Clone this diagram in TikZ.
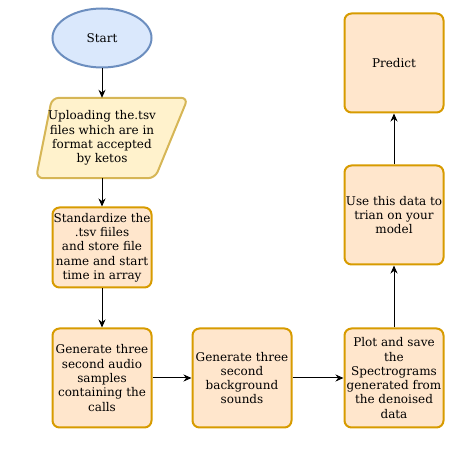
\documentclass[tikz,border=0pt]{standalone}
\usepackage{fontspec}
\setmainfont{DejaVu Serif}
\usepackage{xcolor}
\usepackage{tikz}
\usetikzlibrary{shapes.geometric,arrows.meta,backgrounds}
\definecolor{boxfill}{HTML}{FFE6CC}
\definecolor{boxline}{HTML}{D79B00}
\definecolor{startfill}{HTML}{DAE8FC}
\definecolor{startline}{HTML}{6C8EBF}
\definecolor{iofill}{HTML}{FFF2CC}
\definecolor{ioline}{HTML}{D6B656}

\begin{document}
\begin{tikzpicture}[x=1pt, y=-1pt,
  every node/.style={font=\fontsize{12}{14.3}\selectfont, align=center, text=black},
  stepbox/.style={draw=boxline, fill=boxfill, line width=2pt, rounded corners=7pt, minimum width=99pt, minimum height=99pt, inner sep=1pt},
  flow/.style={-{Stealth[length=8pt,width=7pt]}, line width=1pt}]
\useasboundingbox (0,0) rectangle (459,449);
\node[ellipse, draw=startline, fill=startfill, line width=2pt, minimum width=99pt, minimum height=59pt] (start) at (102,38) {Start};
\node[minimum height=80pt, inner sep=1pt] (upload) at (102,138) {Uploading the.tsv\\files which are in\\format accepted\\by ketos};
\node[stepbox, minimum height=80pt] (std) at (102,247.5) {Standardize the\\.tsv fiiles\\and store file\\name and start\\time in array};
\node[stepbox] (audio) at (102,378) {Generate three\\second audio\\samples\\containing the\\calls};
\node[stepbox] (bg) at (242,378) {Generate three\\second\\background\\sounds};
\node[stepbox] (plot) at (394,378) {Plot and save\\the\\Spectrograms\\generated from\\the denoised\\data};
\node[stepbox] (train) at (394,215) {Use this data to\\trian on your\\model};
\node[stepbox] (predict) at (394,63) {Predict};
\begin{scope}[on background layer]
\draw[draw=ioline, fill=iofill, line width=2pt, rounded corners=7pt] ([xshift=-50]upload.north) -- ([xshift=86]upload.north) -- ([xshift=53]upload.south) -- ([xshift=-66]upload.south) -- cycle;
\end{scope}
\draw[flow] (start) -- (upload);
\draw[flow] (upload) -- (std);
\draw[flow] (std) -- (audio);
\draw[flow] (audio) -- (bg);
\draw[flow] (bg) -- (plot);
\draw[flow] (plot) -- (train);
\draw[flow] (train) -- (predict);
\end{tikzpicture}
\end{document}
